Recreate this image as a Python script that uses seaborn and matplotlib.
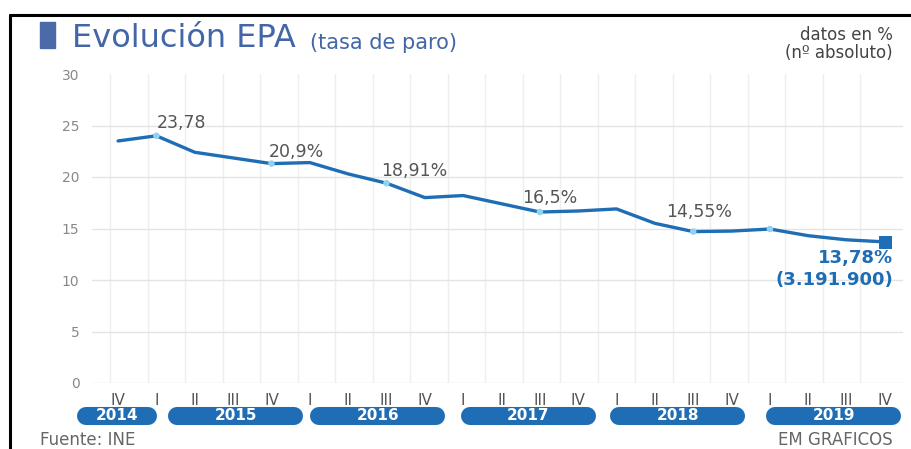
import numpy as np
import pandas as pd
import matplotlib
matplotlib.use("Agg")
import matplotlib.pyplot as plt
import matplotlib.transforms as mtransforms
from matplotlib.lines import Line2D
from matplotlib.patches import Rectangle
import seaborn as sns

# ---------------- data ----------------
quarters = ["IV",
            "I", "II", "III", "IV",
            "I", "II", "III", "IV",
            "I", "II", "III", "IV",
            "I", "II", "III", "IV",
            "I", "II", "III", "IV"]
rate = [23.5, 24.0, 22.4, 21.85, 21.3, 21.4, 20.3, 19.4, 18.0, 18.2, 17.4,
        16.6, 16.7, 16.9, 15.5, 14.7, 14.75, 14.95, 14.3, 13.9, 13.7]
years = ["2014", "2015", "2016", "2017", "2018", "2019"]
quarters_per_year = [1, 4, 4, 4, 4, 4]
highlight_idx = [1, 4, 7, 11, 15, 17]
label_idx = [1, 4, 7, 11, 15]
label_txt = ["23,78", "20,9%", "18,91%", "16,5%", "14,55%"]
last_label = "13,78%\n(3.191.900)"
yticks = [0, 5, 10, 15, 20, 25, 30]

# ---------------- style ----------------
BLUE = "#1f6db4"
LIGHT = "#8fd3f2"
TITLE_BLUE = "#4266a6"
W, H = 912, 449

sns.set_theme(style="white")
plt.rcParams["font.family"] = ["DejaVu Sans"]

fig = plt.figure(figsize=(W / 100, H / 100), dpi=100)
fig.patch.set_facecolor("white")
ax = fig.add_axes([92 / W, 66 / H, (903 - 92) / W, (383 - 74) / H])

df = pd.DataFrame({"idx": np.arange(len(rate)), "rate": rate, "q": quarters})

sns.lineplot(data=df, x="idx", y="rate", color=BLUE, lw=2.4, ax=ax,
             solid_capstyle="round", zorder=3)
hl = df.iloc[highlight_idx]
sns.scatterplot(data=hl, x="idx", y="rate", color=LIGHT, s=22, ax=ax,
                edgecolor="none", zorder=4)
last = df.iloc[[-1]]
sns.scatterplot(data=last, x="idx", y="rate", color=BLUE, s=80, marker="s",
                ax=ax, edgecolor=BLUE, zorder=5)

ax.set_xlim(-0.68, 20.47)
ax.set_ylim(0, 30)
ax.set_xlabel("")
ax.set_ylabel("")
for s in ax.spines.values():
    s.set_visible(False)

ax.set_xticks(df["idx"])
ax.set_xticklabels(df["q"])
ax.set_yticks(yticks)
ax.set_yticklabels([str(v) for v in yticks])
ax.tick_params(axis="x", length=0, pad=7, labelsize=11, colors="#555555")
ax.tick_params(axis="y", length=0, pad=9, labelsize=10, colors="#888888")

# grid
ax.set_xticks(np.linspace(-0.21, 19.35, 21), minor=True)
ax.tick_params(which="minor", length=0)
ax.grid(which="minor", axis="x", color="#eeeeee", lw=1)
ax.grid(which="major", axis="y", color="#e4e4e4", lw=1)
ax.grid(which="major", axis="x", visible=False)
ax.get_ygridlines()[-1].set_visible(False)
ax.set_axisbelow(True)

# annotations
offsets = [(0, 13), (-3, 12), (-5, 12), (-18, 14), (-27, 20)]
for i, t, (dx, dy) in zip(label_idx, label_txt, offsets):
    ax.annotate(t, xy=(i, rate[i]), xytext=(dx, dy), textcoords="offset pixels",
                ha="left", va="center", fontsize=12.5, color="#555555")
ax.annotate(last_label, xy=(len(rate) - 1, rate[-1]), xytext=(8, -27),
            textcoords="offset pixels", ha="right", va="center",
            multialignment="right", fontsize=13, fontweight="bold",
            color=BLUE, linespacing=1.25, annotation_clip=False)

# year pills
blend = mtransforms.blended_transform_factory(ax.transData, fig.transFigure)
pill_y = (H - 416) / H
pill_shift = [-0.03, 0.57, 0.27, 0.2, 0.09, 0.16]
start = 0
for yr, n, sh in zip(years, quarters_per_year, pill_shift):
    first, lastq = start, start + n - 1
    center = (first + lastq) / 2 + sh
    half = max((lastq - first) / 2 + 0.03, 0.81)
    ax.plot([center - half, center + half], [pill_y, pill_y], transform=blend,
            color=BLUE, lw=13, solid_capstyle="round", clip_on=False)
    ax.text(center, pill_y, yr, transform=blend, ha="center", va="center",
            color="white", fontsize=11, fontweight="bold", clip_on=False)
    start += n

# title
fig.add_artist(Rectangle((40 / W, 1 - 48 / H), 15 / W, 26 / H,
                         transform=fig.transFigure, color="#4a6aa8"))
t1 = fig.text(72 / W, 1 - 54 / H, "Evolución EPA", fontsize=23,
              color=TITLE_BLUE, ha="left", va="bottom")
fig.add_artist(plt.Annotation("(tasa de paro)", xy=(1, 0), xycoords=t1,
                              xytext=(14, 1), textcoords="offset pixels",
                              ha="left", va="bottom", fontsize=15,
                              color=TITLE_BLUE))
fig.text(893 / W, 1 - 44 / H, "datos en %\n(nº absoluto)", ha="right",
         va="center", multialignment="right", fontsize=12, color="#444444",
         linespacing=1.05)

# footer
fig.text(40 / W, 1 - 440 / H, "Fuente: INE", ha="left", va="center",
         fontsize=12, color="#666666")
fig.text(893 / W, 1 - 440 / H, "EM GRAFICOS", ha="right", va="center",
         fontsize=12, color="#666666")

# frame
fig.add_artist(Line2D([10 / W, 10 / W], [0, 1 - 15 / H], transform=fig.transFigure,
                      color="black", lw=2.2))
fig.add_artist(Line2D([10 / W, 1], [1 - 15 / H, 1 - 15 / H],
                      transform=fig.transFigure, color="black", lw=2.2))

fig.savefig("out.png", dpi=100)
